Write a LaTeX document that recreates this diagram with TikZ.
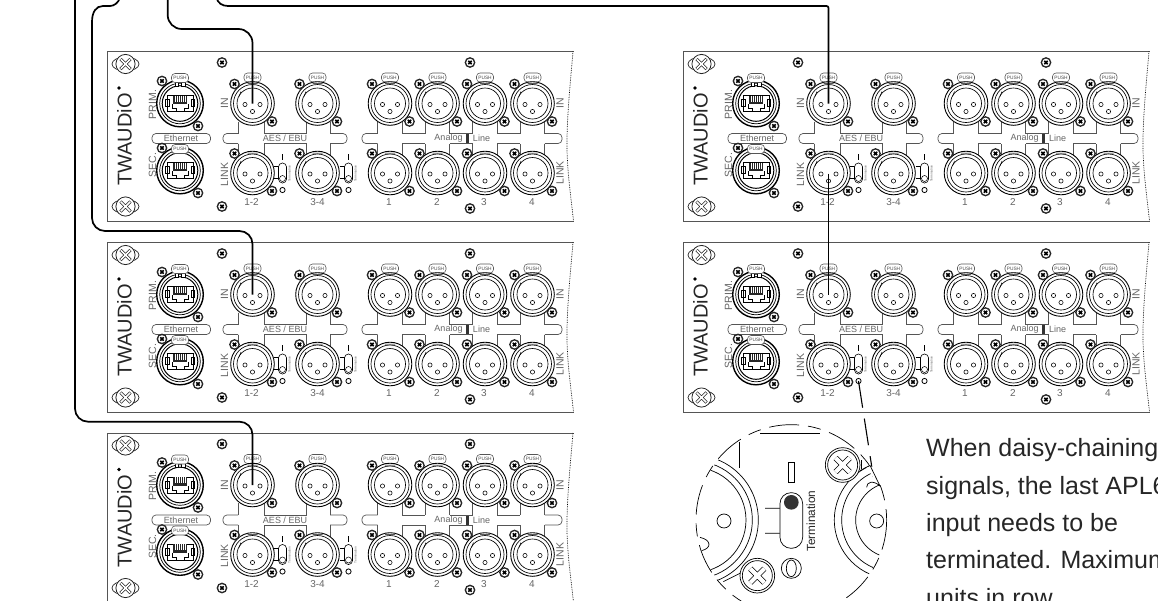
\documentclass[tikz,border=0pt]{standalone}
\usepackage{fontspec}
\setmainfont{Liberation Sans}
\definecolor{gtxt}{HTML}{666666}
\definecolor{gline}{HTML}{555555}
\tikzset{
  gl/.style={draw=gline,line width=.7pt},
  thinb/.style={draw=black,line width=.55pt},
  cable/.style={draw=black,line width=1.7pt},
  lab/.style={text=gtxt,inner sep=0pt,font=\fontsize{10.5}{11}\selectfont},
  pushtab/.style={draw=gline,fill=white,line width=.55pt,rounded corners=3.5pt,minimum width=17pt,minimum height=9pt,inner sep=0pt,text=black!70,font=\fontsize{4.8}{5}\selectfont},
}
\newcommand{\Tscr}[2]{%
  \begin{scope}[shift={(#1,#2)}]
    \fill[fill=black!85] (0,0) circle[radius=5.4];
    \fill[white] (0,0) circle[radius=3.8];
    \draw[black,line width=1.5pt] (-1.7,-1.7)--(1.7,1.7) (-1.7,1.7)--(1.7,-1.7);
  \end{scope}}
\newcommand{\Bscr}[2]{%
  \begin{scope}[shift={(#1,#2)}]
    \draw[black!85,line width=.7pt] (0,0) ellipse[x radius=13.5,y radius=7];
    \draw[black!85,fill=white,line width=.8pt] (0,0) circle[radius=9.6];
    \draw[black!85,line width=3pt] (-5,-5)--(5,5) (-5,5)--(5,-5);
    \draw[white,line width=1.7pt] (-4.7,-4.7)--(4.7,4.7) (-4.7,4.7)--(4.7,-4.7);
  \end{scope}}
\newcommand{\Xlr}[4]{% name x y withtab
  \ifnum#4=1 \node[pushtab] (-#1t) at (#2,#3-26) {PUSH};\fi
  \begin{scope}[shift={(#2,#3)}]
    \draw[black,fill=white,line width=.9pt] (0,0) circle[radius=21.8];
    \draw[black,line width=.65pt] (0,0) circle[radius=19];
    \draw[black,line width=.65pt] (0,0) circle[radius=15.5];
    \draw[black,line width=.5pt] (-11.5,-12)--(-13.5,-7) (-5,-20)--(5,-20);
    \foreach \px/\py in {-7.5/1,7.5/1,0/8} \draw[black,line width=.55pt] (\px,\py) circle[radius=2.1];
  \end{scope}
  \Tscr{#2-18}{#3-19.5}\Tscr{#2+19.5}{#3+18}}
\newcommand{\Eth}[5]{% name x y tabdy screwdy
  \begin{scope}[shift={(#2,#3)}]
    \draw[black,fill=white,line width=1.4pt] (0,0) circle[radius=23.3];
    \draw[black,line width=.7pt] (0,0) circle[radius=20.3];
    \draw[black,line width=1pt] (0,0) circle[radius=17.8];
    \draw[black,line width=.5pt] (-13,-8) rectangle (13,8);
    \draw[black,line width=.5pt] (-14.5,-4) rectangle (-11,3) (11,-4) rectangle (14.5,3);
    \fill[black!85] (-7,-8) rectangle (7,0.5);
    \foreach \q in {-5,-3,...,5} \draw[white,line width=.3pt] (\q,-8)--(\q,-2);
    \draw[black,line width=.5pt] (-8,0.5)--(-8,5)--(-4,5)--(-4,8) (4,8)--(4,5)--(8,5)--(8,0.5);
    \draw[black,fill=white,line width=.5pt] (-5,-22) rectangle (-1.5,-17.5) (1.5,-22) rectangle (5,-17.5);
  \end{scope}
  \node[pushtab] (-#1t) at (#2,#3-#4) {PUSH};
  \Tscr{#2-18}{#3-#5}\Tscr{#2+18}{#3+#5}}
\newcommand{\Term}[2]{% name x
  \draw[black,line width=.5pt] (#2-9,115)--(#2-4,115) (#2-9,127)--(#2-4,127);
  \draw[black,fill=white,line width=.6pt,rounded corners=3.9pt] (#2-4,111.5) rectangle (#2+4,131.5);
  \fill[black] (#2-.9,102.5) rectangle (#2+.9,108.5);
  \draw[black,fill=white,line width=.5pt] (#2,127) circle[radius=3];
  \draw[black,line width=.8pt] (#2,138.5) circle[radius=2.6];
  \coordinate (-#1) at (#2,138.5);
  \node[rotate=90,inner sep=0pt,text=gtxt,font=\fontsize{3.2}{4}\selectfont] (-#1txt) at (#2+7,122) {Termination};}
\tikzset{panelpic/.pic={
  % border
  \draw[gl,line width=1pt] (466,0)--(0,0)--(0,169.5)--(466,169.5);
  \draw[black,densely dotted,line width=.7pt] (465.5,0) .. controls (462,40) and (458,80) .. (460,110) .. controls (461,130) and (464,150) .. (466,169.5);
  % bands
  \draw[gl] (130.5,70)--(130.5,82) (156.5,70)--(156.5,82)--(198.5,82)--(198.5,70) (222.5,70)--(222.5,82);
  \draw[gl] (130.5,104)--(130.5,92) (156.5,104)--(156.5,92)--(198.5,92)--(198.5,104) (222.5,104)--(222.5,92);
  \draw[gl,rounded corners=4pt] (130.5,82)--(115.5,82)--(115.5,92)--(130.5,92);
  \draw[gl,rounded corners=4pt] (222.5,82)--(239.5,82)--(239.5,92)--(222.5,92);
  \draw[gl,rounded corners=4pt] (270.2,82)--(254.5,82)--(254.5,92)--(270.2,92);
  \draw[gl,rounded corners=4pt] (437.3,82)--(454.5,82)--(454.5,92)--(437.3,92);
  \foreach \c in {282.5,330,377.5,425} {
    \draw[gl] (\c-12.3,70)--(\c-12.3,82) (\c+12.3,70)--(\c+12.3,82) (\c-12.3,104)--(\c-12.3,92) (\c+12.3,104)--(\c+12.3,92);}
  \draw[gl] (294.8,82)--(317.7,82) (342.3,82)--(365.2,82) (389.8,82)--(412.7,82);
  \draw[gl] (294.8,92)--(317.7,92) (342.3,92)--(365.2,92) (389.8,92)--(412.7,92);
  \draw[gl,fill=white,rounded corners=4pt] (44.5,82) rectangle (103,92);
  % connectors
  \Eth{e1}{72.5}{52}{25.5}{22.5}
  \Eth{e2}{72.5}{119}{21.5}{22.5}
  \Xlr{a}{145}{52}{1}\Xlr{b}{210}{52}{1}
  \Xlr{c}{282.5}{52}{1}\Xlr{d}{330}{52}{1}\Xlr{f}{377.5}{52}{1}\Xlr{g}{425}{52}{1}
  \Xlr{h}{145}{121.5}{0}\Xlr{i}{210}{121.5}{0}
  \Xlr{j}{282.5}{121.5}{0}\Xlr{k}{330}{121.5}{0}\Xlr{l}{377.5}{121.5}{0}\Xlr{m}{425}{121.5}{0}
  \Term{t1}{175}\Term{t2}{241}
  \Bscr{18}{12.5}\Bscr{18}{155}
  \Tscr{114.5}{11}\Tscr{114.5}{155}\Tscr{362.5}{11}\Tscr{362.5}{157}
  % anchors
  \coordinate (-in1) at (145,52);
  \coordinate (-link1) at (145,122);
  % texts
  \fill[black] (11.5,36.5) circle[radius=1.9];
  \node[rotate=90,inner sep=0pt,text=black!85,font=\fontsize{20}{20}\selectfont] (-logo) at (17,88) {TWAUDiO};
  \node[lab,rotate=90] (-prim) at (45,53) {PRIM.};
  \node[lab,rotate=90] (-sec) at (45,113.5) {SEC.};
  \node[lab,font=\fontsize{9}{10}\selectfont] (-eth) at (73.5,87) {Ethernet};
  \node[lab,font=\fontsize{9}{10}\selectfont] (-aes) at (177.5,87) {AES / EBU};
  \node[lab,font=\fontsize{9}{10}\selectfont] (-ana) at (341,87) {Analog};
  \node[lab,font=\fontsize{9}{10}\selectfont] (-lin) at (374,87) {Line};
  \fill[black!80] (358.8,82.5) rectangle (361.2,91.5);
  \node[lab,rotate=90] (-in) at (117,52) {IN};
  \node[lab,rotate=90] (-lk) at (117,123) {LINK};
  \node[lab,rotate=90] (-in2) at (452.5,52) {IN};
  \node[lab,rotate=90] (-lk2) at (452.5,121.5) {LINK};
  \node[lab,font=\fontsize{10}{11}\selectfont] (-n1) at (144,151) {1-2};
  \node[lab,font=\fontsize{10}{11}\selectfont] (-n2) at (210,151) {3-4};
  \node[lab,font=\fontsize{10}{11}\selectfont] (-n3) at (281.5,151) {1};
  \node[lab,font=\fontsize{10}{11}\selectfont] (-n4) at (329.5,151) {2};
  \node[lab,font=\fontsize{10}{11}\selectfont] (-n5) at (376.5,151) {3};
  \node[lab,font=\fontsize{10}{11}\selectfont] (-n6) at (424.5,151) {4};
}}
\begin{document}
\begin{tikzpicture}[x=1pt,y=-1pt]
\useasboundingbox (0,0) rectangle (1158,600);
\clip (0,0) rectangle (1158,600);
\fill[white] (0,0) rectangle (1158,600);
\pic (p1) at (107.5,51.5) {panelpic};
\pic (p2) at (107.5,242.5) {panelpic};
\pic (p3) at (107.5,433) {panelpic};
\pic (q1) at (683.5,51.5) {panelpic};
\pic (q2) at (683.5,242.5) {panelpic};
% free ends and bends
\coordinate (c1) at (75,-2);
\coordinate (b1) at (160,421.7);
\coordinate (c2) at (120,-2);
\coordinate (b2a) at (110,6);
\coordinate (b2b) at (92,22);
\coordinate (b2c) at (160,231);
\coordinate (c3) at (167.7,-2);
\coordinate (b3) at (200,29);
\coordinate (c4) at (216.5,-2);
\coordinate (b4) at (228,6);
\coordinate (d1) at (873.3,476.7);
% cables
\draw[cable,rounded corners=13pt] (c1) |- (b1) -| (p3-in1);
\draw[cable] (c2) .. controls (118,3) and (114,6) .. (b2a) -- (103,6) .. controls (96,6) and (92,12) .. (b2b);
\draw[cable,rounded corners=13pt] (b2b) |- (b2c) -| (p2-in1);
\draw[cable,rounded corners=14pt] (c3) |- (b3) -| (p1-in1);
\draw[cable] (c4) .. controls (218,3) and (222,6) .. (b4);
\draw[cable,rounded corners=2pt] (b4) -| (q1-in1);
\draw[cable] (q1-link1) -- (q2-in1);
\draw[black,line width=1.1pt,dash pattern=on 27pt off 11pt] (q2-t1) -- (d1);
% detail view, in coordinates of a 3x enlargement
\begin{scope}[shift={(660,380)},x=.3333pt,y=-.3333pt]
  \draw[black,line width=.7pt,dash pattern=on 30pt off 9pt on 13pt off 9pt] (394,420) circle[radius=286];
  \begin{scope}
    \clip (394,420) circle[radius=284];
    \draw[black,line width=.7pt] (100,420) circle[radius=195] (100,420) circle[radius=177] (100,420) circle[radius=158];
    \draw[black,line width=.7pt] (700,420) circle[radius=177] (700,420) circle[radius=155] (700,420) circle[radius=113];
    \draw[black,line width=.7pt] (120,472) .. controls (155,480) and (155,505) .. (125,512);
  \end{scope}
  \fill[white] (618,260) -- (680,260) -- (680,315) -- (655,315) -- cycle;
  \draw[black,line width=.7pt] (605,240)--(605,268) (300,160)--(480,160) (237,186)--(237,265);
  \draw[black,line width=.7pt] (600,272)--(630,256)--(660,318) (660,318) .. controls (640,300) and (620,305) .. (620,322);
  \draw[black,line width=.7pt] (315,385)--(362,385) (315,460)--(362,460) (190,605)--(250,575);
  \draw[black,fill=white,line width=.7pt] (192,423) circle[radius=21] (650,423) circle[radius=21];
  \draw[black,fill=white,line width=.7pt,rounded corners=11pt] (360,338) rectangle (428,505);
  \fill[black!80] (394,367) circle[radius=22];
  \draw[black,line width=.7pt] (386,247) rectangle (402,307);
  \draw[black,line width=.7pt] (394,565) circle[radius=30] (394,565) ellipse[x radius=15,y radius=25];
  \node[rotate=90,inner sep=0pt,text=black!85,font=\fontsize{11.8}{12}\selectfont] (term) at (453,423) {Termination};
  \foreach \sx/\sy in {548/255,292/587} {
    \draw[black,fill=white,line width=.7pt] (\sx,\sy) circle[radius=52];
    \draw[black,line width=.7pt] (\sx,\sy) circle[radius=45];
    \draw[black,line width=5.6pt] (\sx-21,\sy-21)--(\sx+21,\sy+21) (\sx-21,\sy+21)--(\sx+21,\sy-21);
    \draw[white,line width=4.2pt] (\sx-21,\sy-21)--(\sx+21,\sy+21) (\sx-21,\sy+21)--(\sx+21,\sy-21);
  }
\end{scope}
% note
\node[anchor=base west,inner sep=0pt,text=black!85,font=\fontsize{25}{25}\selectfont] (n1) at (926,456) {When daisy-chaining};
\node[anchor=base west,inner sep=0pt,text=black!85,font=\fontsize{25}{25}\selectfont] (n2) at (926,494) {signals, the last APL6};
\node[anchor=base west,inner sep=0pt,text=black!85,font=\fontsize{25}{25}\selectfont] (n3) at (926,531) {input needs to be};
\node[anchor=base west,inner sep=0pt,text=black!85,font=\fontsize{25}{25}\selectfont] (n4) at (926,568.5) {terminated. Maximum};
\node[anchor=base west,inner sep=0pt,text=black!85,font=\fontsize{25}{25}\selectfont] (n5) at (926,606) {units in row};
\end{tikzpicture}
\end{document}
